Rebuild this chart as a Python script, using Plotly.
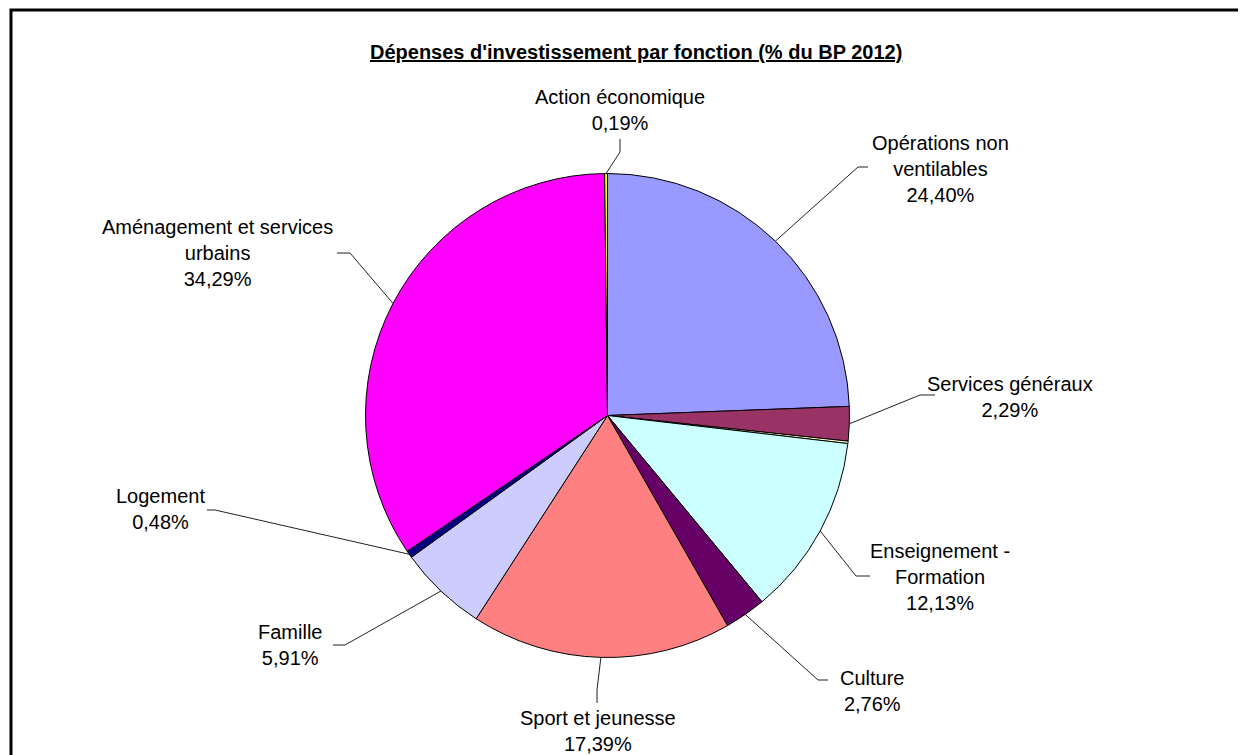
import math

from plotly import graph_objects as go

# data, clockwise from 12 o'clock
categories = [
    "Opérations non ventilables",
    "Services généraux",
    "Sécurité et salubrité publiques",
    "Enseignement - Formation",
    "Culture",
    "Sport et jeunesse",
    "Famille",
    "Logement",
    "Aménagement et services urbains",
    "Action économique",
]
display_labels = [
    "Opérations non<br>ventilables",
    "Services généraux",
    None,
    "Enseignement -<br>Formation",
    "Culture",
    "Sport et jeunesse",
    "Famille",
    "Logement",
    "Aménagement et services<br>urbains",
    "Action économique",
]
shares = [24.40, 2.29, 0.16, 12.13, 2.76, 17.39, 5.91, 0.48, 34.29, 0.19]
colors = [
    "#9999FF", "#993366", "#FFFFCC", "#CCFFFF", "#660066",
    "#FF8080", "#CCCCFF", "#000080", "#FF00FF", "#FFFF00",
]

W, H = 1246, 755
OFF = 8  # the page body margin shifts the figure
CX, CY, R = 607.5, 415.5, 242  # pie centre / radius in screen pixels
FONT = "Arial, Liberation Sans, sans-serif"

# label block centre, leader elbow, leader end (screen pixels)
label_layout = {
    "Opérations non ventilables": ((940, 169), (858, 167), (868, 167)),
    "Services généraux": ((1010, 397), (920, 395), (935, 395)),
    "Enseignement - Formation": ((940, 577), (856, 576), (870, 576)),
    "Culture": ((872, 691), (818, 680), (828, 680)),
    "Sport et jeunesse": ((598, 731), (597, 690), (597, 703)),
    "Famille": ((290, 645), (345, 645), (333, 645)),
    "Logement": ((160, 509), (215, 510), (207, 510)),
    "Aménagement et services urbains": ((217, 253), (350, 253), (337, 253)),
    "Action économique": ((620, 110), (620, 152), (620, 139)),
}


def px(x):
    return (x - OFF) / W


def py(y):
    return 1 - (y - OFF) / H


fig = go.Figure()
fig.add_trace(
    go.Pie(
        labels=categories,
        values=shares,
        sort=False,
        direction="clockwise",
        rotation=0,
        textinfo="none",
        hoverinfo="label+percent",
        marker=dict(colors=colors, line=dict(color="black", width=1)),
        domain=dict(x=[px(CX - R), px(CX + R)], y=[py(CY + R), py(CY - R)]),
        showlegend=False,
    )
)

annotations = [
    dict(
        text="<b><u>Dépenses d'investissement par fonction (% du BP 2012)</u></b>",
        x=px(636), y=py(52), xref="paper", yref="paper",
        xanchor="center", yanchor="middle", showarrow=False,
        font=dict(family=FONT, size=20, color="black"),
    )
]
shapes = [
    dict(
        type="rect", xref="paper", yref="paper",
        x0=px(11), y0=py(H + 40), x1=px(W + 40), y1=py(10),
        line=dict(color="black", width=3),
    )
]

total = sum(shares)
cum = 0
for name, lab, v in zip(categories, display_labels, shares):
    mid = (cum + v / 2) / total * 2 * math.pi
    cum += v
    if lab is None:
        continue
    (lx, ly), (ex, ey), (tx, ty) = label_layout[name]
    sx = CX + R * math.sin(mid)
    sy = CY - R * math.cos(mid)
    pct = f"{v:.2f}".replace(".", ",") + "%"
    annotations.append(
        dict(
            text=f"{lab}<br>{pct}", x=px(lx), y=py(ly),
            xref="paper", yref="paper", xanchor="center", yanchor="middle",
            showarrow=False, font=dict(family=FONT, size=20, color="black"),
        )
    )
    shapes.append(
        dict(
            type="path", xref="paper", yref="paper",
            path=f"M {px(sx)} {py(sy)} L {px(ex)} {py(ey)} L {px(tx)} {py(ty)}",
            line=dict(color="#222222", width=1),
        )
    )

fig.update_layout(
    width=W,
    height=H,
    margin=dict(l=0, r=0, t=0, b=0),
    paper_bgcolor="white",
    plot_bgcolor="white",
    annotations=annotations,
    shapes=shapes,
)

fig.write_html("out.html")
